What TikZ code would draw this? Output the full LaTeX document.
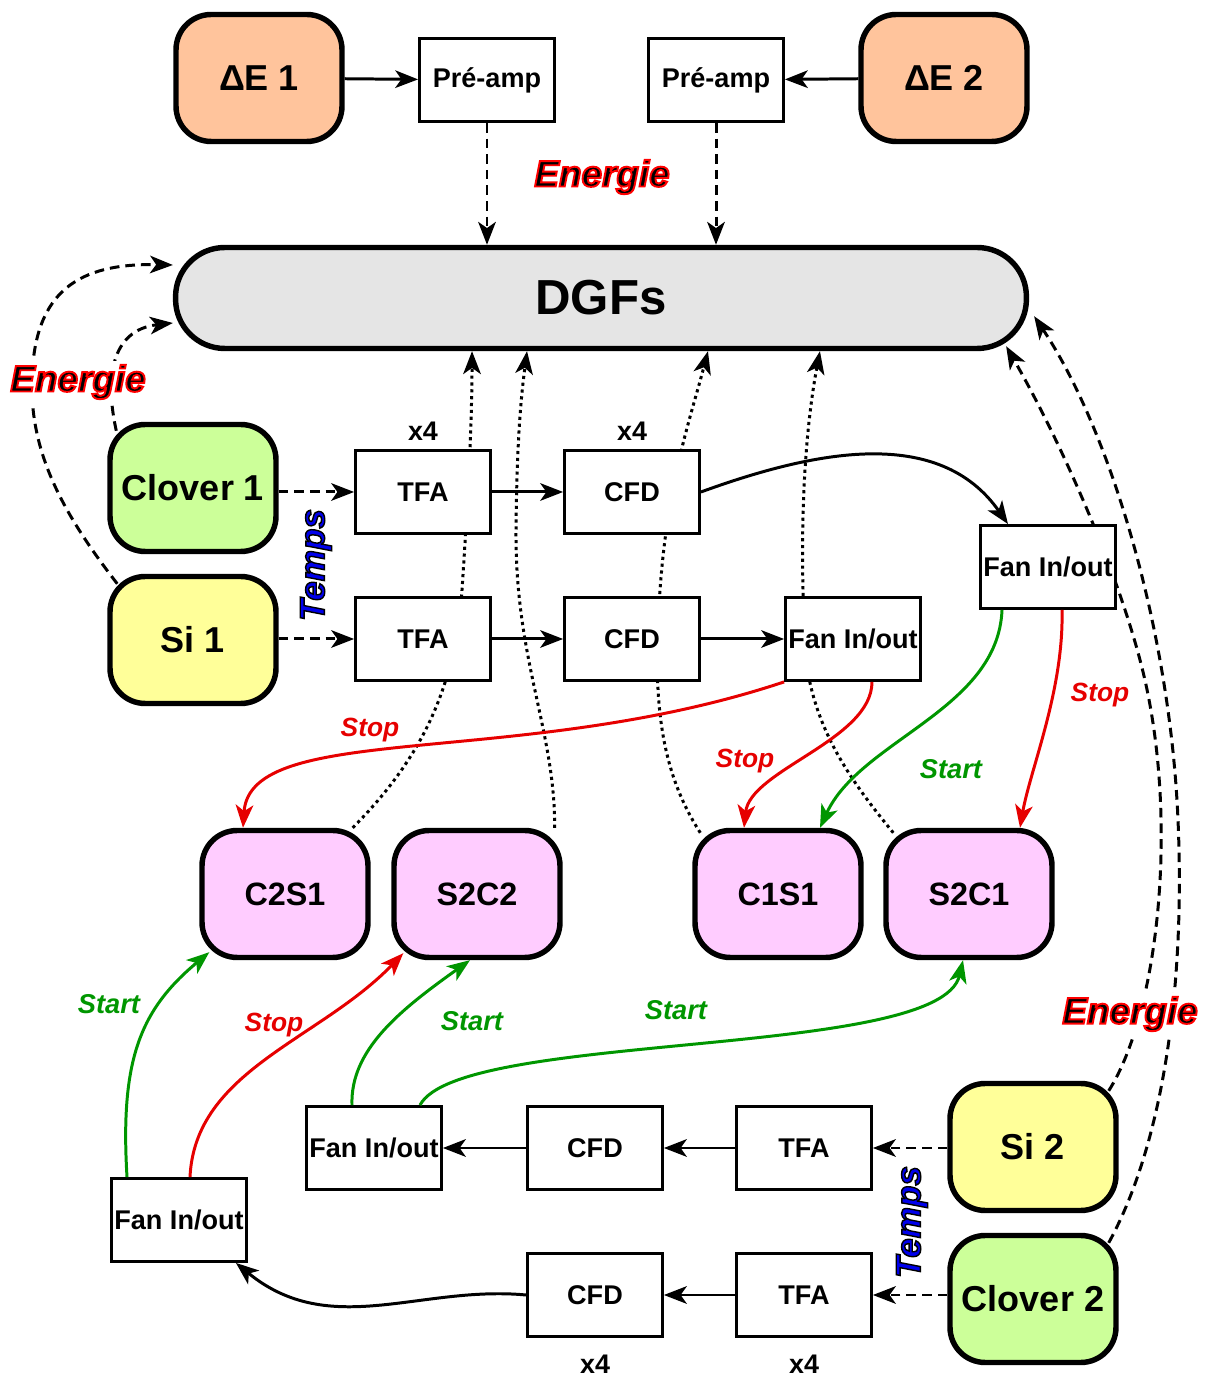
\documentclass[tikz,border=0pt]{standalone}
\usepackage{fontspec}
\setmainfont{Liberation Sans}
\usetikzlibrary{arrows.meta, positioning, calc, backgrounds}
\definecolor{peachbox}{RGB}{255,196,156}
\definecolor{greybox}{RGB}{229,229,229}
\definecolor{greenbox}{RGB}{204,255,153}
\definecolor{yellowbox}{RGB}{255,255,153}
\definecolor{pinkbox}{RGB}{255,204,255}
\definecolor{stopred}{RGB}{230,0,0}
\definecolor{startgreen}{RGB}{0,150,0}
\definecolor{tempsblue}{RGB}{0,0,235}
% text with a coloured outline (stroke colour, stroke width, text)
\newcommand{\outlined}[3]{\special{pdf:literal q #1 RG #2 w 2 Tr}#3\special{pdf:literal Q}}

\tikzset{
  detbox/.style={draw, line width=3.1pt, rounded corners=20pt, minimum width=3.32cm,
    minimum height=2.54cm, inner sep=1pt, font=\bfseries\fontsize{20.5}{24}\selectfont},
  coincbox/.style={detbox, fill=pinkbox, font=\bfseries\fontsize{18.4}{22}\selectfont},
  elecbox/.style={draw, fill=white, line width=1.9pt, minimum width=2.69cm,
    minimum height=1.65cm, inner sep=1pt, font=\bfseries\fontsize{15.4}{18}\selectfont},
  dgfbox/.style={draw, fill=greybox, line width=3.1pt, rounded corners=28pt,
    minimum width=17.02cm, minimum height=2.02cm, font=\bfseries\fontsize{28}{32}\selectfont},
  xlbl/.style={inner sep=1pt, font=\bfseries\fontsize{15.3}{18}\selectfont},
  energie/.style={fill=white, inner sep=2pt, text=black,
    font=\bfseries\itshape\fontsize{21}{24}\selectfont},
  temps/.style={rotate=90, inner sep=1pt, text=tempsblue,
    font=\bfseries\itshape\fontsize{20}{24}\selectfont},
  stoplbl/.style={text=stopred, font=\bfseries\itshape\fontsize{15}{18}\selectfont},
  startlbl/.style={text=startgreen, font=\bfseries\itshape\fontsize{15.5}{18}\selectfont},
  link/.style={line width=1.7pt, -{Stealth[length=13pt, width=10pt, inset=3.5pt]}},
  dashlink/.style={link, dash pattern=on 5.5pt off 3.4pt},
  dotlink/.style={link, dash pattern=on 1.8pt off 2.1pt},
  stoplink/.style={link, stopred},
  startlink/.style={link, startgreen}
}

\begin{document}
\begin{tikzpicture}[x=0.02cm, y=0.02cm]
  \useasboundingbox (0,0) rectangle (1210,1380);

  % Delta E part
  \node[detbox, fill=peachbox] (de1) at (259,1302) {ΔE 1};
  \node[elecbox] (pre1) at (487,1300) {Pré-amp};
  \node[elecbox] (pre2) at (716,1300) {Pré-amp};
  \node[detbox, fill=peachbox] (de2) at (944,1302) {ΔE 2};
  \node[energie] (en1) at (602,1203) {\outlined{1 0 0}{1.1}{Energie}};
  \node[dgfbox] (dgf) at (601,1082) {DGFs};

  % side 1
  \node[detbox, fill=greenbox] (clov1) at (193,892) {Clover 1};
  \node[detbox, fill=yellowbox] (si1) at (193,740) {Si 1};
  \node[elecbox] (tfa1) at (423,888) {TFA};
  \node[elecbox] (cfd1) at (632,888) {CFD};
  \node[elecbox] (tfa2) at (423,741) {TFA};
  \node[elecbox] (cfd2) at (632,741) {CFD};
  \node[elecbox] (fan2) at (853,741) {Fan In/out};
  \node[elecbox] (fanr) at (1048,813) {Fan In/out};
  \node[xlbl, above=0.12cm of tfa1] (x4a) {x4};
  \node[xlbl, above=0.12cm of cfd1] (x4b) {x4};
  \node[temps] (tp1) at (316,815) {\outlined{0 0 0}{0.8}{Temps}};
  \node[energie] (en2) at (78,998) {\outlined{1 0 0}{1.1}{Energie}};

  % coincidences
  \node[coincbox] (c2s1) at (285,486) {C2S1};
  \node[coincbox] (s2c2) at (477,486) {S2C2};
  \node[coincbox] (c1s1) at (778,486) {C1S1};
  \node[coincbox] (s2c1) at (969,486) {S2C1};

  % side 2
  \node[elecbox] (fana) at (374,232) {Fan In/out};
  \node[elecbox] (cfdb1) at (595,232) {CFD};
  \node[elecbox] (tfab1) at (804,232) {TFA};
  \node[detbox, fill=yellowbox] (si2) at (1033,233) {Si 2};
  \node[detbox, fill=greenbox] (clov2) at (1033,81) {Clover 2};
  \node[elecbox] (cfdb2) at (595,85) {CFD};
  \node[elecbox] (tfab2) at (804,85) {TFA};
  \node[elecbox] (fanb) at (179,160) {Fan In/out};
  \node[xlbl, below=0.3cm of cfdb2] (x4c) {x4};
  \node[xlbl, below=0.3cm of tfab2] (x4d) {x4};
  \node[temps] (tp2) at (912,158) {\outlined{0 0 0}{0.8}{Temps}};
  \node[energie] (en3) at (1130,366) {\outlined{1 0 0}{1.1}{Energie}};

  % signal labels
  \node[stoplbl] (st1) at (370,650) {Stop};
  \node[stoplbl] (st2) at (745,619) {Stop};
  \node[startlbl] (sa1) at (951,611) {Start};
  \node[stoplbl] (st3) at (1100,685) {Stop};
  \node[startlbl] (sa2) at (109,376) {Start};
  \node[stoplbl] (st4) at (274,355) {Stop};
  \node[startlbl] (sa3) at (472,359) {Start};
  \node[startlbl] (sa4) at (676,370) {Start};

  % energy lines, behind the boxes
  \begin{scope}[on background layer]
    \draw[dotlink] ([xshift=-0.36cm]c2s1.north east) .. controls (420,620) and (455,690) .. (462,790)
      .. controls (468,880) and (472,960) .. ([xshift=-2.58cm]dgf.south);
    \draw[dotlink] ([xshift=-0.16cm]s2c2.north east) .. controls (555,650) and (515,720) .. (516,850)
      .. controls (517,950) and (522,990) .. ([xshift=-1.48cm]dgf.south);
    \draw[dotlink] ([shift={(0.16cm,-0.1cm)}]c1s1.north west) .. controls (660,610) and (652,680) .. (660,790)
      .. controls (668,900) and (690,960) .. ([xshift=2.14cm]dgf.south);
    \draw[dotlink] ([shift={(0.2cm,-0.1cm)}]s2c1.north west) .. controls (850,600) and (815,650) .. (806,720)
      .. controls (798,850) and (805,950) .. ([xshift=4.38cm]dgf.south);
    \draw[dashlink] ([shift={(0.18cm,-0.18cm)}]clov1.north west) .. controls (105,1000) and (110,1050)
      .. ([yshift=-0.5cm]dgf.west);
    \draw[dashlink] ([shift={(0.2cm,-0.2cm)}]si1.north west) .. controls (60,870) and (30,930) .. (32,1000)
      .. controls (34,1090) and (80,1117) .. ([yshift=0.66cm]dgf.west);
    \draw[dashlink] ([shift={(-0.2cm,-0.2cm)}]si2.north east) .. controls (1160,370) and (1180,570) .. (1140,720)
      .. controls (1115,815) and (1060,940) .. ([shift={(-0.46cm,0.1cm)}]dgf.south east);
    \draw[dashlink] ([shift={(-0.2cm,-0.2cm)}]clov2.north east) .. controls (1165,240) and (1185,400) .. (1178,560)
      .. controls (1170,750) and (1110,950) .. ([shift={(0.1cm,0.7cm)}]dgf.south east);
  \end{scope}

  % Delta E chain
  \draw[link] (de1) -- (pre1);
  \draw[link] (de2) -- (pre2);
  \draw[dashlink] (pre1.south) -- (pre1.south |- dgf.north);
  \draw[dashlink] (pre2.south) -- (pre2.south |- dgf.north);

  % side 1 chain
  \draw[dashlink] (clov1.east |- tfa1) -- (tfa1.west);
  \draw[dashlink] (si1.east |- tfa2) -- (tfa2.west);
  \draw[link] (tfa1) -- (cfd1);
  \draw[link] (tfa2) -- (cfd2);
  \draw[link] (cfd2) -- (fan2);
  \draw[link] (cfd1.east) to[out=20, in=125] ([xshift=-0.8cm]fanr.north);
  \draw[stoplink] (fan2.south west) .. controls (520,610) and (250,660) .. ([xshift=-0.84cm]c2s1.north);
  \draw[stoplink] ([xshift=0.38cm]fan2.south) .. controls (872,640) and (750,610) .. ([xshift=-0.68cm]c1s1.north);
  \draw[startlink] ([xshift=-0.92cm]fanr.south) .. controls (998,670) and (860,640) .. ([xshift=0.84cm]c1s1.north);
  \draw[stoplink] ([xshift=0.28cm]fanr.south) .. controls (1064,690) and (1030,610) .. ([xshift=1.02cm]s2c1.north);

  % side 2 chain
  \draw[dashlink] (si2.west |- tfab1) -- (tfab1.east);
  \draw[link] (tfab1) -- (cfdb1);
  \draw[link] (cfdb1) -- (fana);
  \draw[dashlink] (clov2.west |- tfab2) -- (tfab2.east);
  \draw[link] (tfab2) -- (cfdb2);
  \draw[link] (cfdb2.west) .. controls (420,95) and (330,40) .. ([xshift=-0.24cm]fanb.south east);
  \draw[startlink] ([xshift=-1.04cm]fanb.north) .. controls (120,320) and (140,370) .. ([shift={(0.2cm,0.16cm)}]c2s1.south west);
  \draw[stoplink] ([xshift=0.22cm]fanb.north) .. controls (195,310) and (320,340) .. ([shift={(0.24cm,0.14cm)}]s2c2.south west);
  \draw[startlink] ([xshift=-0.44cm]fana.north) .. controls (350,330) and (400,370) .. ([xshift=-0.14cm]s2c2.south);
  \draw[startlink] ([xshift=0.92cm]fana.north) .. controls (460,350) and (940,320) .. ([xshift=-0.12cm]s2c1.south);
\end{tikzpicture}
\end{document}
